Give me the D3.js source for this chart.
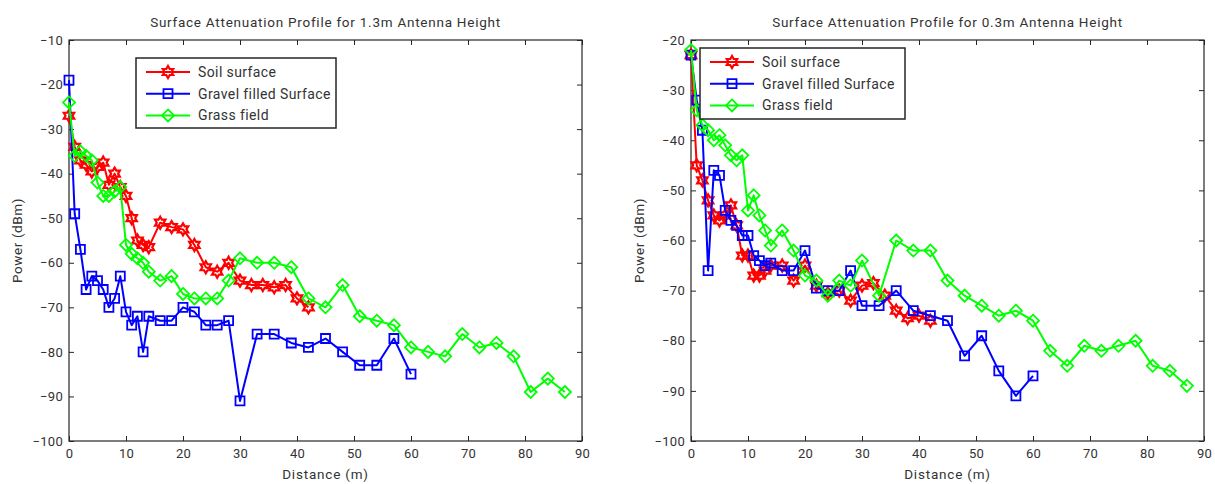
<!DOCTYPE html>
<html>
<head>
<meta charset="utf-8">
<script src="https://cdn.jsdelivr.net/npm/d3@7"></script>
<style>
  html, body { margin: 0; padding: 0; background: #fff; }
  svg { display: block; font-family: Roboto, "Noto Sans", sans-serif; }
</style>
</head>
<body>
<svg id="chart" width="1215" height="484"></svg>
<script>
// ---- Data: received power (dBm) against distance (m) ----
// 1.3 m antenna height
const soilDist13 = [0,1,2,3,4,5,6,7,8,9,10,11,12,13,14,16,18,20,22,24,26,28,30,32,34,36,38,40,42];
const soilPow13  = [-27,-34,-37,-38,-39.5,-38.5,-37.5,-42.5,-40,-43,-45,-50,-55,-56,-56.5,-51,-52,-52.5,-56,-61,-62,-60,-64,-65,-65,-65.5,-65,-68,-70];

const gravelDist13 = [0,1,2,3,4,5,6,7,8,9,10,11,12,13,14,16,18,20,22,24,26,28,30,33,36,39,42,45,48,51,54,57,60];
const gravelPow13  = [-19,-49,-57,-66,-63,-64,-66,-70,-68,-63,-71,-74,-72,-80,-72,-73,-73,-70,-71,-74,-74,-73,-91,-76,-76,-78,-79,-77,-80,-83,-83,-77,-85];

const grassDist13 = [0,1,2,3,4,5,6,7,8,9,10,11,12,13,14,16,18,20,22,24,26,28,30,33,36,39,42,45,48,51,54,57,60,63,66,69,72,75,78,81,84,87];
const grassPow13  = [-24,-36,-35,-36,-37,-42,-45,-45,-44,-43,-56,-58,-59,-60,-62,-64,-63,-67,-68,-68,-68,-64,-59,-60,-60,-61,-68,-70,-65,-72,-73,-74,-79,-80,-81,-76,-79,-78,-81,-89,-86,-89];

// 0.3 m antenna height
const soilDist03 = [0,1,2,3,4,5,6,7,8,9,10,11,12,13,14,16,18,20,22,24,26,28,30,32,34,36,38,40,42];
const soilPow03  = [-23,-45,-48,-52,-55,-56,-55,-53,-57,-63,-63,-67,-67,-66,-65,-65,-68,-65,-69,-70.5,-70,-72,-69,-68.5,-71,-74,-75.5,-75,-76];

const gravelDist03 = [0,1,2,3,4,5,6,7,8,9,10,11,12,13,14,16,18,20,22,24,26,28,30,33,36,39,42,45,48,51,54,57,60];
const gravelPow03  = [-23,-32,-38,-66,-46,-47,-54,-56,-57,-59,-59,-63,-64,-65,-64.5,-66,-66,-62,-69.5,-70,-70,-66,-73,-73,-70,-74,-75,-76,-83,-79,-86,-91,-87];

const grassDist03 = [0,1,2,3,4,5,6,7,8,9,10,11,12,13,14,16,18,20,22,24,26,28,30,33,36,39,42,45,48,51,54,57,60,63,66,69,72,75,78,81,84,87];
const grassPow03  = [-22,-34,-37,-38,-40,-39,-41,-43,-44,-43,-54,-51,-55,-58,-61,-58,-62,-67,-68,-71,-68,-69,-64,-71,-60,-62,-62,-68,-71,-73,-75,-74,-76,-82,-85,-81,-82,-81,-80,-85,-86,-89];

// Series names and tick values
const seriesNames = ["Soil surface", "Gravel filled Surface", "Grass field"];
const xTicks = [0,10,20,30,40,50,60,70,80,90];
const yTicks13 = [-10,-20,-30,-40,-50,-60,-70,-80,-90,-100];
const yTicks03 = [-20,-30,-40,-50,-60,-70,-80,-90,-100];
const titles = ["Surface Attenuation Profile for 1.3m Antenna Height",
                "Surface Attenuation Profile for 0.3m Antenna Height"];

// ---- Drawing ----
const svg = d3.select("#chart");
const colors = ["#ff0000", "#0000ff", "#00ff00"];
const markers = ["hexagram", "square", "diamond"];

function zip(xs, ys) { return xs.map((x, i) => ({ x: x, y: ys[i] })); }

function markerPath(kind) {
  if (kind === "square") {
    const s = 4.5;
    return `M${-s},${-s}H${s}V${s}H${-s}Z`;
  }
  if (kind === "diamond") {
    const s = 6;
    return `M0,${-s}L${s},0L0,${s}L${-s},0Z`;
  }
  // six-pointed star
  const ro = 6, ri = ro / Math.sqrt(3);
  const pts = [];
  for (let k = 0; k < 12; k++) {
    const a = -Math.PI / 2 + k * Math.PI / 6;
    const r = k % 2 === 0 ? ro : ri;
    pts.push([r * Math.cos(a), r * Math.sin(a)]);
  }
  return "M" + pts.map(p => p[0].toFixed(2) + "," + p[1].toFixed(2)).join("L") + "Z";
}

const panels = [
  {
    left: 69, title: titles[0], yDomain: [-100, -10], yTicks: yTicks13,
    series: [zip(soilDist13, soilPow13), zip(gravelDist13, gravelPow13), zip(grassDist13, grassPow13)],
    legend: { x: 136, y: 58, w: 200, h: 70 }
  },
  {
    left: 691, title: titles[1], yDomain: [-100, -20], yTicks: yTicks03,
    series: [zip(soilDist03, soilPow03), zip(gravelDist03, gravelPow03), zip(grassDist03, grassPow03)],
    legend: { x: 700, y: 48, w: 205, h: 71 }
  }
];

const plotTop = 40, plotBottom = 441, plotWidth = 513;
const textColor = "#333333";
const frameColor = "#262626";

panels.forEach(p => {
  const x = d3.scaleLinear().domain([0, 90]).range([p.left, p.left + plotWidth]);
  const y = d3.scaleLinear().domain(p.yDomain).range([plotBottom, plotTop]);
  const g = svg.append("g");

  // axes: ticks point inward, mirrored on the opposite sides
  const tickLen = 5;
  const axB = g.append("g").attr("transform", `translate(0,${plotBottom})`)
    .call(d3.axisBottom(x).tickValues(xTicks).tickSizeInner(-tickLen).tickSizeOuter(0).tickPadding(8));
  const axL = g.append("g").attr("transform", `translate(${p.left},0)`)
    .call(d3.axisLeft(y).tickValues(p.yTicks).tickSizeInner(-tickLen).tickSizeOuter(0).tickPadding(6));
  const axT = g.append("g").attr("transform", `translate(0,${plotTop})`)
    .call(d3.axisTop(x).tickValues(xTicks).tickSizeInner(-tickLen).tickSizeOuter(0).tickFormat(""));
  const axR = g.append("g").attr("transform", `translate(${p.left + plotWidth},0)`)
    .call(d3.axisRight(y).tickValues(p.yTicks).tickSizeInner(-tickLen).tickSizeOuter(0).tickFormat(""));
  [axB, axL, axT, axR].forEach(a => {
    a.select(".domain").remove();
    a.selectAll("line").attr("stroke", frameColor).attr("stroke-width", 1);
    a.selectAll("text").attr("fill", textColor).attr("font-size", 13)
      .attr("letter-spacing", 0.3)
      .attr("font-family", "Roboto, sans-serif");
  });

  g.append("rect")
    .attr("x", p.left).attr("y", plotTop).attr("width", plotWidth).attr("height", plotBottom - plotTop)
    .attr("fill", "none").attr("stroke", frameColor).attr("stroke-width", 1.2);

  // title and axis labels
  g.append("text").attr("x", p.left + plotWidth / 2).attr("y", 27)
    .attr("text-anchor", "middle").attr("font-size", 13.5).attr("letter-spacing", 0.75)
    .attr("fill", textColor).text(p.title);
  g.append("text").attr("x", p.left + plotWidth / 2).attr("y", 479)
    .attr("text-anchor", "middle").attr("font-size", 13.5).attr("letter-spacing", 0.8)
    .attr("fill", textColor).text("Distance (m)");
  g.append("text")
    .attr("transform", `translate(${p.left - 47},${(plotTop + plotBottom) / 2}) rotate(-90)`)
    .attr("text-anchor", "middle").attr("font-size", 13.5).attr("letter-spacing", 0.6)
    .attr("fill", textColor).text("Power (dBm)");

  // data lines and markers
  const line = d3.line().x(d => x(d.x)).y(d => y(d.y));
  p.series.forEach((data, i) => {
    const sg = g.append("g");
    sg.append("path").datum(data).attr("d", line)
      .attr("fill", "none").attr("stroke", colors[i]).attr("stroke-width", 2)
      .attr("stroke-linejoin", "round");
    sg.selectAll("path.mk").data(data).join("path").attr("class", "mk")
      .attr("transform", d => `translate(${x(d.x)},${y(d.y)})`)
      .attr("d", markerPath(markers[i]))
      .attr("fill", "none").attr("stroke", colors[i]).attr("stroke-width", i === 0 ? 2.2 : 1.8);
  });

  // legend
  const L = p.legend;
  const lg = g.append("g");
  lg.append("rect").attr("x", L.x).attr("y", L.y).attr("width", L.w).attr("height", L.h)
    .attr("fill", "#fff").attr("stroke", frameColor).attr("stroke-width", 1.5);
  seriesNames.forEach((name, i) => {
    const cy = L.y + 14 + i * 21.7;
    lg.append("line").attr("x1", L.x + 10).attr("x2", L.x + 54).attr("y1", cy).attr("y2", cy)
      .attr("stroke", colors[i]).attr("stroke-width", 2);
    lg.append("path").attr("transform", `translate(${L.x + 32},${cy})`)
      .attr("d", markerPath(markers[i]))
      .attr("fill", "none").attr("stroke", colors[i]).attr("stroke-width", i === 0 ? 2.2 : 1.8);
    lg.append("text").attr("x", L.x + 62).attr("y", cy + 5)
      .attr("font-size", 14).attr("letter-spacing", 0.4).attr("fill", textColor).text(name);
  });
});
</script>
</body>
</html>
